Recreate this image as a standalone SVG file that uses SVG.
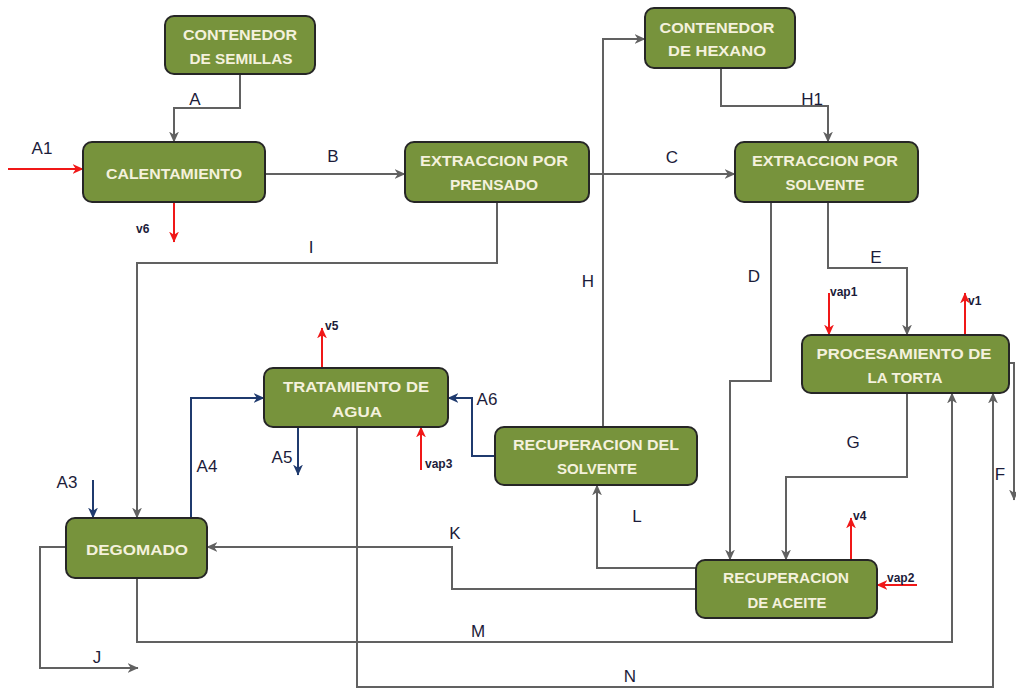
<svg xmlns="http://www.w3.org/2000/svg" width="1016" height="689" viewBox="0 0 1016 689">
  <style>
    .node rect { fill: #77933C; stroke: #262626; stroke-width: 2; }
    .node text { font-family: "Liberation Sans", Arial, sans-serif; font-size: 15px; font-weight: bold; fill: #F4F1DC; text-anchor: middle; }
    .gray { fill: none; stroke: #616161; stroke-width: 2; marker-end: url(#ahGray); }
    .red { fill: none; stroke: #F01818; stroke-width: 2; marker-end: url(#ahRed); }
    .navy { fill: none; stroke: #1F3A6E; stroke-width: 2; marker-end: url(#ahNavy); }
    .lbl { font-family: "Liberation Sans", Arial, sans-serif; font-size: 17px; fill: #1C1C3A; text-anchor: middle; }
    .sm { font-family: "Liberation Sans", Arial, sans-serif; font-size: 12px; font-weight: bold; fill: #1C1C3A; }
  </style>
  <defs>
    <marker id="ahGray" viewBox="0 0 10 10" refX="9.5" refY="5" markerWidth="11" markerHeight="11" markerUnits="userSpaceOnUse" orient="auto">
      <path d="M0,0.5 L10,5 L0,9.5 L3,5 z" fill="#616161"/>
    </marker>
    <marker id="ahRed" viewBox="0 0 10 10" refX="9.5" refY="5" markerWidth="11" markerHeight="11" markerUnits="userSpaceOnUse" orient="auto">
      <path d="M0,0.5 L10,5 L0,9.5 L3,5 z" fill="#F01818"/>
    </marker>
    <marker id="ahNavy" viewBox="0 0 10 10" refX="9.5" refY="5" markerWidth="11" markerHeight="11" markerUnits="userSpaceOnUse" orient="auto">
      <path d="M0,0.5 L10,5 L0,9.5 L3,5 z" fill="#1F3A6E"/>
    </marker>
  </defs>

  <!-- stream lines -->
  <g id="connectors">
    <path class="gray" d="M240,74 V108 H174 V142"/>
    <path class="red" d="M8,169 H83"/>
    <path class="gray" d="M265,174 H405"/>
    <path class="red" d="M174,202 V242"/>
    <path class="gray" d="M497,202 V263 H137 V518"/>
    <path class="gray" d="M589,174 H735"/>
    <path class="gray" d="M603,427 V39 H645"/>
    <path class="gray" d="M721,68 V106 H828 V142"/>
    <path class="gray" d="M771,202 V381 H730 V560"/>
    <path class="gray" d="M828,202 V268 H907 V335"/>
    <path class="red" d="M829,293 V335"/>
    <path class="red" d="M965,335 V293"/>
    <path class="gray" d="M1009,363 H1014 V500"/>
    <path class="gray" d="M907,393 V477 H786 V560"/>
    <path class="red" d="M851,560 V518"/>
    <path class="red" d="M917,585 H877"/>
    <path class="gray" d="M696,568 H597 V485"/>
    <path class="gray" d="M696,589 H452 V547 H207"/>
    <path class="gray" d="M137,578 V642 H952 V393"/>
    <path class="gray" d="M357,427 V687 H993 V393"/>
    <path class="gray" d="M66,547 H40 V668 H138"/>
    <path class="navy" d="M93,480 V518"/>
    <path class="navy" d="M191,518 V398 H264"/>
    <path class="navy" d="M298,427 V475"/>
    <path class="red" d="M322,368 V328"/>
    <path class="red" d="M421,470 V427"/>
    <path class="navy" d="M495,456 H472 V398 H448"/>
  </g>

  <!-- stream labels -->
  <g id="labels">
    <text class="lbl" x="195" y="105">A</text>
    <text class="lbl" x="42" y="154">A1</text>
    <text class="lbl" x="333" y="162">B</text>
    <text class="lbl" x="672" y="163">C</text>
    <text class="lbl" x="812" y="105">H1</text>
    <text class="lbl" x="311" y="253">I</text>
    <text class="lbl" x="588" y="287">H</text>
    <text class="lbl" x="754" y="282">D</text>
    <text class="lbl" x="876" y="263">E</text>
    <text class="lbl" x="853" y="448">G</text>
    <text class="lbl" x="1000" y="480">F</text>
    <text class="lbl" x="67" y="488">A3</text>
    <text class="lbl" x="207" y="472">A4</text>
    <text class="lbl" x="282" y="463">A5</text>
    <text class="lbl" x="487" y="405">A6</text>
    <text class="lbl" x="455" y="539">K</text>
    <text class="lbl" x="637" y="522">L</text>
    <text class="lbl" x="478" y="637">M</text>
    <text class="lbl" x="630" y="682">N</text>
    <text class="lbl" x="97" y="663">J</text>
    <text class="sm" x="136" y="233">v6</text>
    <text class="sm" x="325" y="330">v5</text>
    <text class="sm" x="425" y="468">vap3</text>
    <text class="sm" x="830" y="296">vap1</text>
    <text class="sm" x="968" y="305">v1</text>
    <text class="sm" x="853" y="520">v4</text>
    <text class="sm" x="887" y="582">vap2</text>
  </g>

  <!-- process units -->
  <g id="contenedor-semillas" class="node">
    <rect x="165" y="16" width="150" height="58" rx="9"/>
    <text x="240" y="40" textLength="114" lengthAdjust="spacingAndGlyphs">CONTENEDOR</text>
    <text x="241" y="64" textLength="103" lengthAdjust="spacingAndGlyphs">DE SEMILLAS</text>
  </g>
  <g id="calentamiento" class="node">
    <rect x="83" y="142" width="182" height="60" rx="9"/>
    <text x="174" y="179" textLength="136" lengthAdjust="spacingAndGlyphs">CALENTAMIENTO</text>
  </g>
  <g id="extraccion-prensado" class="node">
    <rect x="405" y="142" width="184" height="60" rx="9"/>
    <text x="494" y="166" textLength="148" lengthAdjust="spacingAndGlyphs">EXTRACCION  POR</text>
    <text x="494" y="190" textLength="88" lengthAdjust="spacingAndGlyphs">PRENSADO</text>
  </g>
  <g id="contenedor-hexano" class="node">
    <rect x="645" y="8" width="150" height="60" rx="9"/>
    <text x="717" y="33" textLength="115" lengthAdjust="spacingAndGlyphs">CONTENEDOR</text>
    <text x="717" y="56" textLength="98" lengthAdjust="spacingAndGlyphs">DE HEXANO</text>
  </g>
  <g id="extraccion-solvente" class="node">
    <rect x="735" y="142" width="183" height="60" rx="9"/>
    <text x="825" y="166" textLength="146" lengthAdjust="spacingAndGlyphs">EXTRACCION  POR</text>
    <text x="825" y="190" textLength="79" lengthAdjust="spacingAndGlyphs">SOLVENTE</text>
  </g>
  <g id="procesamiento-torta" class="node">
    <rect x="802" y="335" width="207" height="58" rx="9"/>
    <text x="904" y="359" textLength="175" lengthAdjust="spacingAndGlyphs">PROCESAMIENTO  DE</text>
    <text x="905" y="383" textLength="75" lengthAdjust="spacingAndGlyphs">LA TORTA</text>
  </g>
  <g id="tratamiento-agua" class="node">
    <rect x="264" y="368" width="184" height="59" rx="9"/>
    <text x="356" y="392" textLength="146" lengthAdjust="spacingAndGlyphs">TRATAMIENTO  DE</text>
    <text x="357" y="417" textLength="50" lengthAdjust="spacingAndGlyphs">AGUA</text>
  </g>
  <g id="recuperacion-solvente" class="node">
    <rect x="495" y="427" width="202" height="58" rx="9"/>
    <text x="596" y="450" textLength="166" lengthAdjust="spacingAndGlyphs">RECUPERACION  DEL</text>
    <text x="597" y="474" textLength="80" lengthAdjust="spacingAndGlyphs">SOLVENTE</text>
  </g>
  <g id="degomado" class="node">
    <rect x="66" y="518" width="141" height="60" rx="9"/>
    <text x="137" y="555" textLength="102" lengthAdjust="spacingAndGlyphs">DEGOMADO</text>
  </g>
  <g id="recuperacion-aceite" class="node">
    <rect x="696" y="560" width="181" height="58" rx="9"/>
    <text x="786" y="583" textLength="126" lengthAdjust="spacingAndGlyphs">RECUPERACION</text>
    <text x="787" y="608" textLength="79" lengthAdjust="spacingAndGlyphs">DE ACEITE</text>
  </g>
</svg>
